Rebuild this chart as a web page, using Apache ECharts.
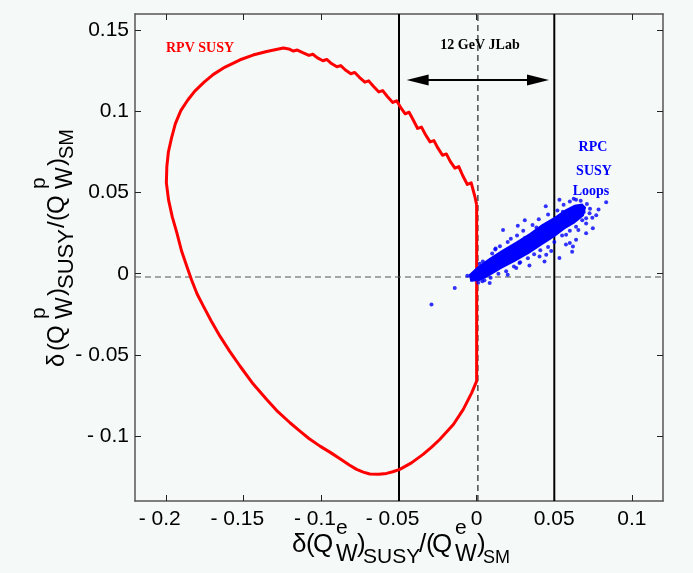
<!DOCTYPE html>
<html>
<head>
<meta charset="utf-8">
<script src="https://cdn.jsdelivr.net/npm/echarts@6/dist/echarts.min.js"></script>
<style>html,body{margin:0;padding:0;background:#f5f9f7;}#c{width:693px;height:573px;}</style>
</head>
<body>
<div id="c"></div>
<script>
// ---- data ----
const xTicks = [-0.2, -0.15, -0.1, -0.05, 0, 0.05, 0.1];
const yTicks = [-0.1, -0.05, 0, 0.05, 0.1, 0.15];
const jlabLimits = [-0.05, 0.05];
const jlabArrow = [-0.038, 0.0395];
const jlabArrowY = 0.1193;
const zeroLineY = -0.002;
const zeroLineX = 0.0008;

// RPV SUSY allowed contour (closed)
const rpvContour = [
  [0, 0.0424], [0, -0.0662], [-0.0032, -0.0734], [-0.0086, -0.0836], [-0.015, -0.0929],
  [-0.0238, -0.1021], [-0.029, -0.1068], [-0.0345, -0.1113], [-0.042, -0.1165], [-0.0495, -0.1205],
  [-0.054, -0.1220], [-0.058, -0.1230], [-0.063, -0.1235], [-0.0688, -0.1234], [-0.073, -0.1222],
  [-0.0773, -0.1205], [-0.082, -0.1178], [-0.088, -0.1140], [-0.094, -0.1102], [-0.1009, -0.1062],
  [-0.108, -0.1015], [-0.114, -0.0968], [-0.1202, -0.0918], [-0.128, -0.0850], [-0.1352, -0.0775],
  [-0.144, -0.0678], [-0.1523, -0.0570], [-0.159, -0.0478], [-0.1652, -0.0386], [-0.171, -0.0290],
  [-0.1759, -0.0201], [-0.180, -0.0125], [-0.1835, -0.0040], [-0.1866, 0.0045], [-0.190, 0.0140],
  [-0.193, 0.0250], [-0.196, 0.0350], [-0.1984, 0.0455], [-0.1998, 0.0560], [-0.1995, 0.0660],
  [-0.1985, 0.0750], [-0.1965, 0.0835], [-0.194, 0.0925], [-0.1905, 0.1005], [-0.186, 0.1070],
  [-0.1815, 0.1125], [-0.1755, 0.1180], [-0.1695, 0.1228], [-0.162, 0.1273], [-0.1523, 0.1318],
  [-0.144, 0.1347], [-0.1352, 0.1369], [-0.1245, 0.1390], [-0.121, 0.1385], [-0.118, 0.1372],
  [-0.1155, 0.1378], [-0.112, 0.1362], [-0.108, 0.1345], [-0.1055, 0.1352],
  [-0.1025, 0.1330], [-0.099, 0.1312], [-0.0965, 0.1320], [-0.0935, 0.1295],
  [-0.090, 0.1275], [-0.0875, 0.1282], [-0.0845, 0.1255], [-0.081, 0.1232],
  [-0.0785, 0.1240], [-0.0755, 0.1210], [-0.072, 0.1180], [-0.0695, 0.1188],
  [-0.0665, 0.1155], [-0.063, 0.1120], [-0.0605, 0.1128], [-0.0575, 0.1092],
  [-0.054, 0.1055], [-0.0515, 0.1065], [-0.049, 0.1025], [-0.046, 0.0985],
  [-0.0435, 0.0995], [-0.041, 0.0950], [-0.038, 0.0895], [-0.0355, 0.0903],
  [-0.033, 0.0858], [-0.030, 0.0812], [-0.0275, 0.0820], [-0.025, 0.0775],
  [-0.022, 0.0730], [-0.0195, 0.0738], [-0.017, 0.0692], [-0.014, 0.0650],
  [-0.0115, 0.0660], [-0.009, 0.0605], [-0.006, 0.0550], [-0.0035, 0.0560],
  [-0.001, 0.0470], [0, 0.0424]
];

// RPC SUSY loops: dense core outline
const rpcCore = [
  [-0.005, -0.0005], [0.000, 0.0040], [0.008, 0.0095], [0.016, 0.0145], [0.025, 0.0195],
  [0.034, 0.0250], [0.042, 0.0305], [0.050, 0.0350], [0.057, 0.0395], [0.063, 0.0425],
  [0.068, 0.0432], [0.0705, 0.0410], [0.069, 0.0355], [0.063, 0.0310], [0.057, 0.0275],
  [0.050, 0.0225], [0.042, 0.0175], [0.034, 0.0125], [0.025, 0.0075], [0.016, 0.0030],
  [0.008, -0.0015], [0.002, -0.0045], [-0.004, -0.0050]
];

// RPC SUSY loops: scattered points
const rpcPoints = [
  [-0.0141, -0.0088], [-0.0291, -0.019], [0.0084, -0.0057], [0.0037, -0.0047], [-0.0034, -0.0016],
  [0.017, 0.027], [0.031, 0.033], [0.0533, 0.0455], [0.0834, 0.044], [0.077, 0.036],
  [0.0748, 0.028], [0.0705, 0.025], [0.062, 0.0168], [0.060, 0.019], [0.0448, 0.0117],
  [0.0405, 0.0106], [0.0276, 0.0066], [0.0533, 0.0097], [0.064, 0.021], [0.0727, 0.0373],
  [0.0576, 0.024], [0.0255, 0.0035], [0.020, -0.0006], [0.0437, 0.0076], [0.0705, 0.0342],
  [0.004, 0.0075], [0.010, 0.0125], [0.015, 0.0170], [0.020, 0.0195], [0.026, 0.0235],
  [0.030, 0.0265], [0.036, 0.0300], [0.040, 0.0335], [0.046, 0.0365], [0.052, 0.0390],
  [0.056, 0.0425], [0.060, 0.0445], [0.064, 0.0455], [0.067, 0.0450], [0.071, 0.0430],
  [0.073, 0.0400], [0.068, 0.0330], [0.064, 0.0290], [0.060, 0.0265], [0.055, 0.0235],
  [0.050, 0.0195], [0.046, 0.0165], [0.041, 0.0145], [0.037, 0.0120], [0.033, 0.0095],
  [0.028, 0.0070], [0.024, 0.0045], [0.019, 0.0015], [0.014, 0.0000], [0.009, -0.0025],
  [0.005, -0.0040], [0.001, -0.0055], [-0.003, -0.0035], [-0.006, -0.0012], [0.002, 0.0062],
  [0.012, 0.0150], [0.022, 0.0215], [0.066, 0.0395], [0.0605, 0.0320], [0.052, 0.0295],
  [0.069, 0.0380], [0.0655, 0.0270], [0.0575, 0.0180], [0.048, 0.0140], [0.034, 0.0050],
  [0.0705, 0.0310], [0.0745, 0.0345], [0.0615, 0.0135], [0.0785, 0.0395], [0.0445, 0.0415],
  [0.0265, 0.0295], [0.0122, 0.0155], [0.0385, 0.0285], [0.0555, 0.0382], [0.0625, 0.0462],
  [0.007, 0.0035], [0.018, 0.0100], [0.029, 0.0160], [0.039, 0.0215], [0.047, 0.0260],
  [0.054, 0.0305], [0.031, 0.0220], [0.043, 0.0260], [0.022, 0.0140], [0.059, 0.0355],
  [0.035, 0.0180], [0.045, 0.0240], [0.011, 0.0060], [0.027, 0.0120], [0.062, 0.0370]
];

// ---- helpers ----
const SANS = '"Liberation Sans", Arial, sans-serif';
const SERIF = '"Liberation Serif", "DejaVu Serif", serif';
function num(v) { return String(Math.abs(v)); }

function piece(t, x, b, s) {
  return { type: 'text', style: { text: t, x: x, y: b - 0.33 * s, font: s + 'px ' + SANS, fill: '#000', verticalAlign: 'middle', align: 'left' } };
}
const xTitle = [
  ['δ', 292, 553, 26], ['(', 306, 553, 26], ['Q', 313, 553, 26], ['e', 336, 535, 21], ['W', 336, 562, 23],
  [')', 357, 553, 26], ['SUSY', 363, 564, 21], ['/', 419, 553, 26], ['(', 426, 553, 26], ['Q', 432, 553, 26],
  ['e', 455, 535, 21], ['W', 455, 562, 23], [')', 477, 553, 26], ['SM', 483, 564, 18]
];
const yTitle = [
  ['δ', 0, 0, 24], ['(', 16, 0, 24], ['Q', 23, 0, 24], ['p', 48, -19, 21], ['W', 48, 8, 23],
  [')', 71, 0, 24], ['SUSY', 78, 9, 22], ['/', 139, 0, 24], ['(', 146, 0, 24], ['Q', 153, 0, 24],
  ['p', 178, -19, 21], ['W', 178, 8, 23], [')', 201, 0, 24], ['SM', 208, 9, 20]
];

function axisBase(pos, ticks, showLabel, isX) {
  const a = {
    type: 'value', position: pos,
    min: isX ? -0.22 : -0.14, max: isX ? 0.12 : 0.16,
    axisLine: { show: true, onZero: false, lineStyle: { color: '#555', width: 1.5 } },
    axisTick: { show: true, inside: true, length: 6, customValues: ticks, lineStyle: { color: '#222', width: 1 } },
    splitLine: { show: false },
    axisLabel: { show: false }
  };
  if (showLabel) {
    a.axisLabel = {
      show: true, customValues: ticks, fontSize: 21, fontFamily: SANS, color: '#000', margin: isX ? 8 : 6,
      formatter: isX
        ? (v) => (v < 0 ? '- ' + num(v) + '{g|- }' : num(v))
        : (v) => (v < 0 ? '- ' + num(v) : num(v)),
      rich: { g: { color: 'transparent', fontSize: 21, fontFamily: SANS } }
    };
  }
  return a;
}

const chart = echarts.init(document.getElementById('c'), null, { renderer: 'canvas' });
const option = {
  backgroundColor: '#f5f9f7',
  animation: false,
  grid: { left: 135, top: 14, width: 528, height: 487, outerBoundsMode: 'none' },
  xAxis: [axisBase('bottom', xTicks, true, true), axisBase('top', xTicks, false, true)],
  yAxis: [axisBase('left', yTicks, true, false), axisBase('right', yTicks, false, false)],
  series: [
    { type: 'line', name: 'RPV SUSY', data: rpvContour, showSymbol: false, symbol: 'none',
      lineStyle: { color: '#ff0000', width: 3, join: 'round' }, z: 3 },
    { type: 'line', data: [[jlabLimits[0], -0.14], [jlabLimits[0], 0.16]], symbol: 'none',
      lineStyle: { color: '#000', width: 2 }, z: 2 },
    { type: 'line', data: [[jlabLimits[1], -0.14], [jlabLimits[1], 0.16]], symbol: 'none',
      lineStyle: { color: '#000', width: 2 }, z: 2 },
    { type: 'line', data: [[-0.22, zeroLineY], [0.12, zeroLineY]], symbol: 'none',
      lineStyle: { color: '#555', width: 1.2, type: [6, 4] }, z: 2 },
    { type: 'line', data: [[zeroLineX, -0.14], [zeroLineX, 0.16]], symbol: 'none',
      lineStyle: { color: '#222', width: 1.2, type: [6, 4] }, z: 2,
      markLine: {
        silent: true, symbol: ['triangle', 'triangle'], symbolSize: [11, 22],
        label: { show: false },
        lineStyle: { color: '#000', width: 2, type: 'solid' },
        data: [[{ coord: [jlabArrow[0], jlabArrowY] }, { coord: [jlabArrow[1], jlabArrowY] }]]
      } },
    { type: 'custom', data: [[0, 0]], z: 4,
      renderItem: function (params, api) {
        const pts = rpcCore.map(p => api.coord(p));
        return { type: 'polygon', shape: { points: pts }, style: { fill: '#0000ff' } };
      } },
    { type: 'scatter', data: rpcPoints, symbolSize: 4, itemStyle: { color: '#0000ff' }, z: 5 }
  ],
  graphic: [
    { type: 'group', children: xTitle.map(p => piece(p[0], p[1], p[2], p[3])) },
    { type: 'group', x: 65, y: 367, rotation: Math.PI / 2, children: yTitle.map(p => piece(p[0], p[1], p[2], p[3])) },
    { type: 'text', style: { text: '12 GeV JLab', x: 480, y: 45, font: 'bold 14px ' + SERIF, fill: '#000', align: 'center', verticalAlign: 'middle' } },
    { type: 'text', style: { text: 'RPV SUSY', x: 166, y: 48, font: 'bold 14px ' + SERIF, fill: '#ff0000', align: 'left', verticalAlign: 'middle' } },
    { type: 'text', style: { text: 'RPC', x: 593, y: 147, font: 'bold 14px ' + SERIF, fill: '#0000ff', align: 'center', verticalAlign: 'middle' } },
    { type: 'text', style: { text: 'SUSY', x: 594, y: 171, font: 'bold 14px ' + SERIF, fill: '#0000ff', align: 'center', verticalAlign: 'middle' } },
    { type: 'text', style: { text: 'Loops', x: 591, y: 191, font: 'bold 14px ' + SERIF, fill: '#0000ff', align: 'center', verticalAlign: 'middle' } }
  ]
};
chart.setOption(option);
</script>
</body>
</html>
